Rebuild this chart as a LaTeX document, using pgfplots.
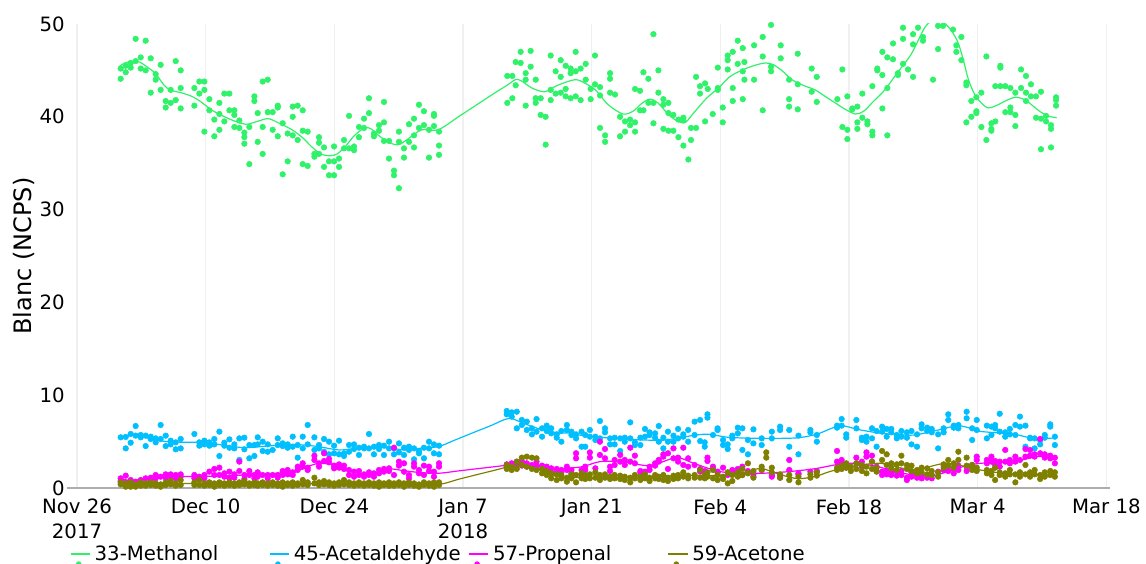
\documentclass[border=0pt]{standalone}
\usepackage{fontspec}
\setmainfont{DejaVu Sans}
\usepackage{pgfplots}
\usepackage{pgfplotstable}
\pgfplotsset{compat=1.18}
\definecolor{meth}{HTML}{30F26A}
\definecolor{acet}{HTML}{00BFFF}
\definecolor{prop}{HTML}{FF00FF}
\definecolor{aceton}{HTML}{808000}
\newcommand\ticksfont{\fontsize{14.8pt}{18.75pt}\selectfont}
\newcommand\labelfont{\fontsize{18pt}{21pt}\selectfont}
\pgfplotsset{mylegend/.style={legend image code/.code={\draw[draw=#1, line width=0.9pt] (0pt,0pt) -- (14.5pt,0pt); \fill[fill=#1] (6pt,-7.6pt) circle (1.6pt); \path (0pt,7.6pt);}}}

\pgfplotstableread{
x y
4.75 45.2
4.75 44.1
5.30 44.8
5.30 45.5
5.84 45.8
5.84 45.3
6.38 48.4
6.38 46.0
6.93 46.4
6.93 45.2
7.47 48.2
7.47 45.0
8.02 46.3
8.02 42.6
8.56 44.6
8.56 44.0
9.10 45.6
9.10 42.9
9.65 41.7
9.65 41.0
10.19 42.9
10.19 41.5
10.74 46.0
10.74 41.8
11.28 45.0
11.28 43.1
11.28 40.9
12.77 43.1
12.77 41.2
13.31 43.8
13.31 42.5
13.86 43.8
13.86 42.9
13.86 38.4
14.40 41.9
14.40 40.7
14.94 39.7
14.94 37.9
15.49 41.5
15.49 40.3
15.49 38.6
16.03 42.5
16.03 39.5
16.58 42.5
16.58 40.7
17.12 40.7
17.12 40.2
17.12 38.9
17.66 39.6
17.66 38.8
18.21 38.3
18.21 37.8
18.21 37.1
18.75 38.9
18.75 34.9
19.30 42.2
19.30 41.7
19.66 40.4
19.66 37.3
20.20 43.8
20.20 38.9
20.20 36.0
20.75 44.0
20.75 40.5
21.29 40.5
21.29 38.6
21.84 41.2
21.84 41.0
21.84 37.9
22.38 39.3
22.38 33.8
22.92 38.2
22.92 35.2
23.47 41.1
23.47 40.0
23.47 38.0
24.01 41.2
24.01 37.5
24.56 40.7
24.56 38.5
24.56 34.9
25.10 38.4
25.10 34.7
25.83 36.0
25.83 35.7
26.33 37.8
26.33 37.2
26.33 36.0
26.88 36.7
26.88 34.6
27.42 35.2
27.42 33.7
27.97 36.8
27.97 35.2
27.97 33.7
28.51 35.5
28.51 34.6
29.05 37.5
29.05 36.6
29.60 40.1
29.60 36.6
30.14 36.8
30.14 36.4
30.68 38.9
30.68 37.8
31.23 39.8
31.23 38.8
31.77 42.0
31.77 40.4
32.31 38.2
32.31 37.9
32.86 39.1
32.86 38.5
33.40 41.6
33.40 39.4
33.40 37.4
33.95 37.4
33.95 35.5
34.49 34.2
34.49 33.7
35.03 38.4
35.03 37.3
35.03 32.3
35.58 36.6
35.58 35.6
36.12 39.2
36.12 37.3
36.67 39.8
36.67 38.0
36.67 36.7
37.21 41.3
37.21 38.8
37.75 40.6
37.75 39.1
38.30 38.6
38.30 35.6
38.84 40.3
38.84 40.1
38.84 39.0
39.39 38.4
39.39 36.9
39.39 35.9
46.82 41.5
46.82 44.4
47.37 44.4
47.37 42.0
47.73 45.9
47.73 43.4
48.27 47.0
48.27 45.8
48.82 44.7
48.82 44.0
48.82 41.2
49.36 47.1
49.36 45.4
49.91 44.0
49.91 42.0
49.91 41.5
50.45 42.0
50.45 40.2
50.99 40.0
50.99 37.0
51.54 46.6
51.54 42.9
51.54 41.8
52.08 44.9
52.08 42.5
52.63 46.1
52.63 44.3
52.63 42.6
53.17 45.5
53.17 43.0
53.17 42.2
53.71 45.2
53.71 44.7
53.71 42.0
54.26 47.0
54.26 44.9
54.26 42.2
54.80 45.2
54.80 41.8
55.35 45.7
55.35 44.0
55.89 43.0
55.89 41.9
56.36 46.6
56.36 43.5
56.91 43.2
56.91 42.3
56.91 38.8
57.46 38.0
57.46 37.3
58.00 44.7
58.00 44.1
58.00 42.6
58.54 42.4
59.09 40.0
59.09 37.9
59.63 39.5
59.63 38.4
60.18 39.7
60.18 39.1
60.72 39.4
60.72 38.4
60.72 43.0
61.26 42.8
61.26 40.7
61.63 44.8
61.63 40.7
62.17 44.1
62.17 41.5
62.72 48.9
62.72 41.5
62.72 39.3
63.26 45.0
63.26 42.6
63.80 41.9
63.80 41.3
63.80 38.7
64.35 41.5
64.35 40.4
64.35 38.5
64.89 40.2
64.89 38.5
65.44 39.7
65.44 37.8
65.98 39.9
65.98 39.6
65.98 36.9
66.52 35.4
66.81 38.8
66.81 37.5
67.36 44.3
67.36 38.8
67.79 43.3
67.79 42.5
68.34 43.6
68.34 39.5
68.63 43.0
69.17 40.3
69.72 45.3
69.72 43.1
69.72 42.9
70.26 41.0
70.26 39.4
70.80 46.6
70.80 46.1
70.80 45.1
71.35 47.0
71.35 43.1
71.35 41.7
71.89 48.2
71.89 45.7
72.44 47.4
72.44 44.9
72.44 41.9
72.62 45.9
72.62 44.0
73.67 47.7
73.67 44.0
74.61 48.6
74.61 46.5
74.61 40.7
75.52 49.9
75.52 45.4
75.52 44.9
76.57 47.7
76.57 46.3
77.48 44.0
77.48 41.9
77.48 41.1
78.42 46.8
78.42 43.5
78.42 40.8
79.94 45.2
79.94 42.7
80.49 44.3
80.49 41.6
82.73 41.9
83.28 45.1
83.28 38.9
83.82 42.2
83.82 38.6
83.82 37.6
84.36 40.9
84.36 40.8
84.91 41.1
84.91 39.4
84.91 38.7
85.45 42.5
85.45 39.9
86.00 39.5
86.00 39.2
86.54 43.3
86.54 38.4
86.54 38.0
87.08 45.2
87.08 45.0
87.63 47.0
87.63 44.5
87.63 40.9
88.17 46.4
88.17 43.1
88.17 38.0
88.79 47.9
88.79 46.2
89.33 44.7
89.33 44.5
89.88 49.6
89.88 48.4
89.88 45.7
90.42 45.1
90.97 48.9
90.97 47.8
90.97 44.3
91.51 49.6
92.05 48.6
92.05 48.2
93.14 44.0
93.69 49.8
93.69 47.3
94.23 49.8
95.32 49.4
95.68 47.7
95.68 47.0
96.23 48.6
96.23 46.1
96.77 43.7
96.77 43.4
96.77 39.4
97.31 41.7
97.31 40.0
97.86 42.1
97.86 40.6
97.86 40.4
98.40 42.6
98.40 38.9
98.95 46.5
98.95 37.5
99.49 39.3
99.49 38.7
99.49 38.5
99.92 39.5
99.92 43.3
100.47 45.5
100.47 45.3
100.47 43.3
101.01 43.3
101.01 40.5
101.56 43.1
101.56 41.0
101.56 40.5
102.10 42.6
102.10 40.2
102.10 39.0
102.72 45.1
102.72 43.1
103.26 44.4
103.26 42.6
103.26 41.7
103.80 43.5
103.80 42.2
104.35 42.2
104.35 39.9
104.89 42.7
104.89 39.8
104.89 36.5
105.44 40.1
105.44 39.5
105.98 39.1
105.98 38.7
105.98 36.7
106.53 42.1
106.53 41.8
106.53 41.2
}\methtab

\pgfplotstableread{
d ac1 ac2 pr1 pr2 at1 at2
4.75 5.46 nan 1.04 0.75 0.61 0.39
5.30 5.50 4.27 1.33 0.61 0.50 0.14
5.84 5.82 4.88 0.86 0.61 0.61 0.14
6.38 6.68 5.64 0.68 nan 0.39 0.14
6.93 5.71 5.46 0.86 0.61 0.61 0.25
7.47 5.64 4.52 1.04 nan 0.50 0.25
8.02 5.53 5.28 1.11 0.86 0.61 0.32
8.56 5.35 4.92 1.40 1.04 0.50 0.25
9.10 6.79 5.28 1.22 nan 0.39 0.14
9.65 5.64 4.52 1.47 1.11 0.61 0.32
10.19 5.10 4.70 1.47 1.22 0.75 0.39
10.74 4.92 4.17 1.40 1.04 0.50 0.25
11.28 5.28 4.27 1.47 1.22 0.86 0.32
12.77 5.82 nan 1.40 1.04 0.61 0.32
13.31 4.92 4.56 1.22 0.97 0.86 0.32
13.86 5.10 4.70 1.40 1.04 0.50 0.25
14.40 4.92 4.56 1.76 nan 0.61 0.32
14.94 5.28 4.70 2.05 1.40 0.50 0.14
15.49 6.07 3.45 2.19 1.40 0.61 0.32
16.03 4.88 4.56 1.58 1.22 0.50 0.25
16.58 5.24 4.34 1.76 1.04 0.61 0.32
17.12 4.70 4.27 1.47 1.11 0.50 0.25
17.66 5.35 3.02 2.84 1.83 0.61 0.32
18.21 5.42 4.17 1.40 0.97 0.75 0.39
18.75 4.63 3.20 1.83 1.40 0.50 0.25
19.30 4.63 3.45 1.40 1.04 0.61 0.32
19.66 5.46 4.70 1.69 1.22 0.50 0.25
20.20 4.99 3.99 1.40 nan 0.61 0.32
20.75 4.70 3.91 1.40 1.04 0.50 0.25
21.29 4.10 nan 1.40 nan 0.61 0.32
21.84 5.35 4.63 1.40 1.11 0.50 0.25
22.38 4.81 4.52 1.83 1.40 0.61 0.14
22.92 4.70 4.34 1.94 1.47 0.50 0.32
23.47 5.53 4.45 1.69 1.40 0.61 0.25
24.01 4.63 3.27 2.30 1.94 0.50 0.32
24.56 5.53 4.27 2.66 2.30 0.86 0.39
25.10 6.79 4.70 2.19 1.94 0.61 0.32
25.83 5.46 4.10 3.48 3.02 1.11 0.50
26.33 4.63 4.27 2.66 2.30 0.61 0.32
26.88 5.28 3.91 3.74 2.91 0.75 0.39
27.42 4.99 3.63 3.13 2.77 0.61 0.32
27.97 4.56 3.74 2.41 2.12 0.50 0.25
28.51 5.10 3.63 2.55 2.19 0.61 0.32
29.05 3.74 3.45 2.41 2.05 0.86 0.39
29.60 4.63 3.91 1.94 1.40 0.61 0.32
30.14 4.70 4.20 1.76 1.22 0.50 0.25
30.68 4.34 3.56 1.83 1.40 0.61 0.32
31.23 4.45 4.27 1.47 1.22 0.50 0.25
31.77 5.82 4.27 1.69 1.40 0.61 0.32
32.31 4.45 3.63 1.58 1.22 0.50 0.25
32.86 4.63 4.20 1.94 1.58 0.61 0.14
33.40 4.56 3.56 2.05 1.76 0.50 0.32
33.95 4.99 4.27 2.12 1.83 0.61 0.25
34.49 4.27 3.63 4.34 1.40 0.50 0.25
35.03 4.81 3.84 2.84 2.41 0.61 0.32
35.58 4.34 3.56 2.66 1.76 0.50 0.14
36.12 4.45 4.10 1.40 1.04 0.61 0.32
36.67 4.27 3.09 2.66 2.30 0.50 0.25
37.21 3.99 3.74 1.94 1.58 0.39 0.14
37.75 4.34 3.20 2.41 1.40 0.61 0.32
38.30 4.99 4.27 2.30 1.83 0.50 0.25
38.84 4.70 3.74 1.76 1.22 0.61 0.14
39.39 4.56 3.63 2.66 2.30 0.61 0.32
46.76 8.30 7.94 2.55 2.30 2.48 2.05
47.30 8.15 7.69 2.66 2.41 2.30 1.94
47.85 8.22 6.43 2.84 2.48 2.84 2.05
48.40 7.33 6.79 2.91 2.41 3.27 2.48
48.94 7.15 6.25 2.66 2.30 3.38 2.30
49.50 6.43 5.78 2.48 2.19 3.27 2.05
50.00 7.43 6.07 2.84 2.41 3.20 1.94
50.60 6.43 5.53 2.41 2.05 2.05 1.58
51.10 6.72 6.14 2.30 1.94 1.83 1.40
51.60 6.43 5.89 2.12 1.69 1.58 1.04
52.20 5.78 5.42 2.05 1.83 1.47 0.86
52.70 6.14 4.99 1.94 1.69 1.40 1.04
53.30 6.79 6.25 2.30 1.94 1.11 0.68
53.80 6.07 5.71 1.94 1.58 1.47 1.04
54.30 5.78 5.35 3.74 3.20 1.40 0.61
54.90 6.07 4.45 1.94 1.40 1.58 1.04
55.30 5.71 4.45 2.30 1.94 1.40 0.97
55.80 6.25 5.53 3.84 3.27 1.47 1.04
56.40 5.53 5.17 2.12 nan 1.69 1.11
56.90 7.22 5.35 4.99 3.56 1.40 0.86
57.45 6.43 6.00 4.20 3.20 1.47 1.11
58.00 5.35 4.70 2.30 1.83 1.22 0.97
58.50 5.42 4.70 3.02 2.48 1.40 1.04
59.10 5.35 3.99 3.56 2.84 1.33 0.97
59.60 5.42 4.99 3.02 2.48 1.22 0.86
60.20 7.07 5.35 4.34 2.84 1.11 0.61
60.70 4.92 4.63 3.48 2.66 1.40 1.04
61.30 5.42 4.63 1.83 1.69 1.22 0.86
61.80 6.36 5.53 1.76 nan 1.47 1.04
62.30 6.00 5.71 2.30 1.94 1.11 0.75
62.90 5.89 5.42 2.66 2.41 1.40 1.04
63.30 6.68 4.99 3.02 2.84 1.22 0.97
63.80 5.42 4.27 3.63 3.38 1.40 0.86
64.30 6.07 4.99 3.74 2.05 1.11 0.75
64.90 5.64 4.99 4.27 3.20 1.33 0.97
65.40 6.36 5.35 3.27 2.84 1.40 1.04
65.97 5.78 5.53 4.34 2.48 1.69 1.22
66.50 6.25 4.99 3.20 2.30 1.33 1.04
67.20 7.15 5.71 2.48 nan 1.40 1.11
67.80 7.33 5.06 2.05 1.76 1.94 1.11
68.30 4.92 4.45 1.83 1.69 1.40 1.04
68.60 7.94 7.58 3.27 2.91 1.69 1.22
69.20 5.71 nan 2.30 2.05 1.94 1.04
69.70 6.43 6.25 1.76 1.69 1.40 0.86
70.30 5.17 4.63 2.19 nan 1.22 0.97
70.80 4.70 4.20 1.40 nan 1.69 0.50
71.30 5.64 5.35 1.94 1.69 1.40 0.75
71.90 6.50 5.89 2.05 1.76 1.69 1.22
72.40 6.43 4.10 2.30 1.40 2.05 1.40
73.00 5.17 3.63 1.83 nan 2.66 1.58
73.60 6.32 4.81 1.47 1.22 1.83 1.11
74.50 5.35 4.63 1.94 nan 2.30 1.94
75.00 nan nan nan nan 3.84 3.27
75.60 6.07 5.35 1.40 1.22 2.19 1.69
76.50 6.61 6.25 1.40 1.11 1.47 1.11
77.50 6.25 4.45 3.02 1.94 1.40 0.86
78.50 5.64 3.63 1.58 1.47 1.22 0.61
79.80 6.25 6.00 1.76 nan 1.47 1.11
80.50 5.71 4.99 1.83 nan 1.69 1.33
82.70 6.72 6.50 3.99 2.84 2.19 1.94
83.20 7.43 6.72 3.02 2.66 2.41 2.05
83.70 5.78 5.42 2.48 2.19 2.66 2.19
84.20 nan nan nan nan 2.30 1.83
84.80 7.33 6.43 3.27 2.66 2.66 2.05
85.40 5.42 5.17 2.84 2.30 2.48 1.83
85.90 5.53 4.99 3.84 3.38 2.30 1.58
86.50 6.43 5.35 3.48 2.84 2.84 2.05
87.00 6.14 4.45 2.30 1.83 2.19 1.76
87.60 6.61 6.07 1.76 1.40 3.99 3.02
88.10 6.36 5.53 1.83 1.47 3.63 2.48
88.60 6.36 6.00 1.69 1.40 2.66 2.12
89.20 5.71 5.35 1.76 1.33 2.55 1.94
89.70 6.14 5.53 1.83 1.40 3.48 2.66
90.30 6.00 5.42 1.11 0.86 2.48 2.05
90.80 6.14 4.70 1.69 1.22 2.41 1.83
91.40 5.78 4.45 1.47 1.11 1.94 1.58
91.90 6.86 6.43 1.40 1.04 2.19 1.69
92.50 6.50 6.14 1.11 nan 2.12 1.47
93.00 6.36 6.00 1.40 1.04 1.83 1.40
93.70 5.78 4.27 1.76 nan 1.69 1.22
94.30 6.43 6.00 2.41 1.94 2.55 2.19
94.80 7.94 7.33 2.30 1.83 3.02 2.41
95.40 6.72 6.50 2.05 1.58 2.66 2.19
95.90 6.79 6.43 2.41 1.94 3.91 3.02
96.80 8.22 7.51 2.30 1.83 3.27 2.41
97.40 6.43 5.17 2.48 2.19 2.48 1.94
97.90 7.33 6.25 3.38 3.02 2.19 1.83
99.00 6.72 5.35 3.02 2.66 1.94 1.58
99.50 6.61 5.71 3.38 2.84 1.83 1.40
99.90 6.79 6.43 2.91 2.48 2.19 0.86
100.40 8.00 6.07 2.84 2.30 1.69 1.40
101.00 6.00 5.53 4.10 2.84 1.58 1.22
101.50 6.36 5.78 3.02 2.66 1.94 1.47
102.10 6.79 5.71 3.38 2.84 1.47 0.61
102.60 7.69 6.61 3.02 nan 1.69 1.22
103.20 6.72 4.45 4.20 3.38 2.48 1.47
103.70 5.42 5.35 4.10 3.48 1.69 1.22
104.20 5.35 4.27 3.63 3.38 1.94 1.47
104.80 5.17 4.70 5.28 3.74 1.40 0.97
105.30 5.71 5.42 3.63 3.27 1.69 1.22
105.90 6.86 6.61 3.48 3.20 1.83 1.40
106.40 5.53 4.63 3.27 2.66 1.69 1.22
}\lowtab

\begin{document}
\begin{tikzpicture}
\useasboundingbox (0,0) rectangle (859.5pt,423pt);
\begin{axis}[
  at={(50.25pt,57pt)}, anchor=south west,
  scale only axis, width=782.25pt, height=348pt,
  xmin=-1.09, xmax=112.4, ymin=0, ymax=50,
  axis x line*=bottom, axis y line*=left,
  x axis line style={draw=black!32, line width=1.1pt, -},
  y axis line style={draw=none},
  xtick={0,14,...,112},
  xticklabels={{Nov 26\\2017},{Dec 10},{Dec 24},{Jan 7\\2018},{Jan 21},{Feb 4},{Feb 18},{Mar 4},{Mar 18}},
  xticklabel style={align=center, font=\ticksfont, inner ysep=0pt, yshift=-8.3pt},
  ytick={0,10,...,50},
  yticklabel style={font=\ticksfont, inner xsep=1.5pt, inner ysep=0pt},
  /pgf/number format/assume math mode=true,
  major tick length=0pt,
  xmajorgrids, major grid style={draw=black!6, line width=0.8pt},
  ylabel={Blanc (NCPS)},
  ylabel style={at={(axis description cs:-0.0412,0.5)}, anchor=center, font=\labelfont},
  clip mode=individual,
  legend columns=4,
  legend cell align=left,
  legend style={at={(0.003,-0.1444)}, anchor=west, draw=none, fill=none, inner sep=0pt, outer sep=0pt, font=\ticksfont, nodes={inner sep=0pt}, column sep=0pt, row sep=0pt},
]
% Methanol
\addplot[only marks, mark=*, mark size=2.1pt, color=meth, forget plot] table[x=x, y=y] {\methtab};
\addplot[draw=meth, line width=0.9pt, smooth, mylegend=meth] coordinates {
(4.6,45.4) (5.2,45.8) (6.5,46.0) (7.3,45.6) (8.5,44.7) (9.4,43.5) (10.1,42.9) (11.3,42.6) (12.5,42.2) (13.5,41.6) (14.7,40.7) (16.5,39.8) (18.3,39.2) (19.6,39.5) (20.8,39.8) (22.0,39.3) (23.4,38.6) (24.6,37.7) (25.5,36.8) (26.5,36.0) (27.5,35.8) (28.3,36.0) (29.2,36.8) (30.2,38.0) (31.3,38.8) (32.0,38.7) (32.8,38.0) (34.0,37.2) (35.0,37.0) (36.0,37.6) (37.5,38.6) (39.3,38.6) (41.5,40.0) (43.5,41.3) (45.5,42.6) (46.8,43.4) (47.7,44.0) (48.3,43.9) (49.5,43.1) (50.9,42.7) (52.3,43.4) (54.2,44.0) (55.3,43.6) (56.4,42.9) (57.8,41.3) (59.4,40.3) (60.5,40.6) (61.4,41.4) (62.3,41.9) (63.2,41.5) (64.4,40.2) (65.4,39.5) (66.2,39.4) (67.0,40.3) (68.5,42.0) (69.8,43.1) (71.0,44.3) (72.3,45.0) (73.6,45.5) (74.9,45.8) (75.8,45.6) (76.8,44.9) (77.8,44.0) (79.0,43.4) (80.3,42.9) (81.4,42.2) (82.5,41.5) (83.6,40.8) (84.7,40.3) (85.6,40.6) (86.6,41.6) (87.9,42.9) (89.3,44.8) (90.8,46.8) (92.3,49.7) (93.5,50.6) (94.3,50.2) (95.2,49.2) (95.9,47.9) (96.5,45.9) (97.0,44.0) (97.8,42.2) (99.0,41.0) (100.0,41.2) (101.0,41.7) (102.1,42.1) (103.2,41.8) (104.6,40.7) (105.6,40.1) (106.6,39.9)
};
\addlegendentry{\hspace*{3pt}\makebox[131pt][l]{33-Methanol}}
% Acetaldehyde
\addplot[only marks, mark=*, mark size=2.1pt, color=acet, forget plot] table[x=d, y=ac1] {\lowtab};
\addplot[only marks, mark=*, mark size=2.1pt, color=acet, forget plot] table[x=d, y=ac2] {\lowtab};
\addplot[draw=acet, line width=0.9pt, smooth, mylegend=acet] coordinates {
(4.75,5.5) (6.4,5.7) (8.0,5.3) (10.2,4.95) (13.9,4.9) (16.0,4.6) (18.2,4.35) (20.5,4.5) (23.3,4.7) (26.0,4.5) (28.5,4.1) (30.5,4.3) (32.1,4.45) (34.0,4.3) (35.8,4.1) (37.5,4.3) (39.3,4.45) (41.0,5.12) (43.0,5.92) (45.0,6.71) (47.0,7.5) (48.5,7.0) (50.2,6.4) (52.0,6.0) (53.8,5.9) (54.7,5.7) (56.5,5.5) (58.4,5.35) (61.0,5.2) (63.8,5.15) (66.0,5.5) (68.5,5.8) (71.0,5.45) (74.7,5.35) (78.3,5.4) (80.5,5.8) (83.0,6.7) (85.0,6.3) (87.4,5.9) (89.0,5.8) (91.0,5.7) (93.5,6.2) (95.7,6.7) (97.0,6.5) (98.3,6.1) (101.9,5.8) (104.1,5.35) (106.6,5.4)
};
\addlegendentry{\hspace*{3pt}\makebox[131pt][l]{45-Acetaldehyde}}
% Propenal
\addplot[only marks, mark=*, mark size=2.1pt, color=prop, forget plot] table[x=d, y=pr1] {\lowtab};
\addplot[only marks, mark=*, mark size=2.1pt, color=prop, forget plot] table[x=d, y=pr2] {\lowtab};
\addplot[draw=prop, line width=0.9pt, smooth, mylegend=prop] coordinates {
(4.75,1.0) (6.0,0.8) (8.0,1.05) (10.2,1.22) (14.0,1.25) (18.2,1.4) (21.9,1.58) (24.1,1.94) (25.5,2.45) (26.3,2.66) (27.3,2.6) (28.5,2.4) (30.6,1.6) (32.1,1.45) (33.9,2.05) (35.8,1.83) (37.5,1.65) (39.3,1.58) (41.5,1.84) (44.0,2.13) (46.0,2.36) (47.0,2.48) (48.8,2.66) (51.3,2.12) (53.0,2.1) (55.0,2.3) (56.9,2.84) (59.4,2.84) (62.3,2.41) (65.2,3.27) (67.1,2.66) (70.0,1.76) (73.6,1.58) (76.5,1.69) (80.1,2.05) (83.7,2.66) (86.6,2.41) (89.2,1.76) (91.0,1.4) (93.2,1.33) (96.4,2.3) (98.3,2.66) (101.9,2.84) (104.4,3.38) (106.2,3.27)
};
\addlegendentry{\hspace*{3pt}\makebox[131pt][l]{57-Propenal}}
% Acetone
\addplot[only marks, mark=*, mark size=2.1pt, color=aceton, forget plot] table[x=d, y=at1] {\lowtab};
\addplot[only marks, mark=*, mark size=2.1pt, color=aceton, forget plot] table[x=d, y=at2] {\lowtab};
\addplot[draw=aceton, line width=0.9pt, smooth, mylegend=aceton] coordinates {
(4.75,0.6) (6.7,0.4) (10.0,0.5) (15.0,0.45) (20.0,0.45) (25.0,0.45) (30.0,0.42) (35.0,0.4) (39.3,0.39) (41.5,0.94) (44.0,1.56) (46.0,2.05) (47.0,2.3) (48.8,2.4) (50.3,2.0) (51.6,1.4) (53.0,1.2) (55.0,1.11) (58.4,1.11) (62.0,1.2) (65.6,1.33) (71.1,1.4) (73.0,1.8) (74.5,2.1) (76.5,1.45) (78.5,1.0) (80.5,1.3) (82.0,1.8) (84.1,2.26) (87.4,2.66) (91.0,1.94) (94.6,2.66) (98.3,1.94) (101.9,1.47) (106.6,1.47)
};
\addlegendentry{\hspace*{3pt}\makebox[80pt][l]{59-Acetone}}
\end{axis}
\end{tikzpicture}
\end{document}
